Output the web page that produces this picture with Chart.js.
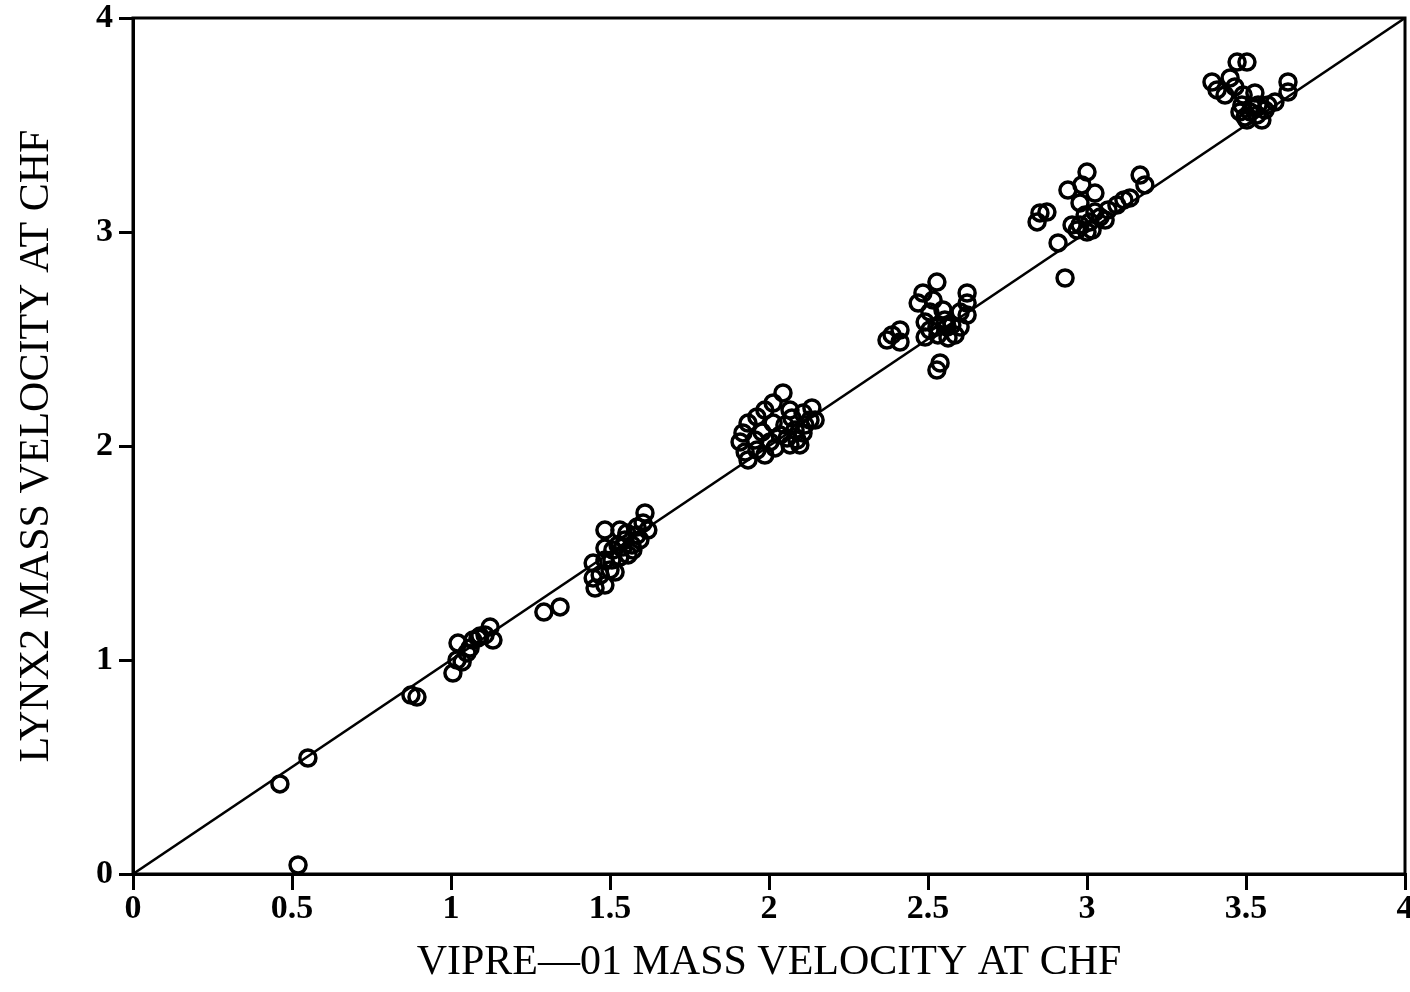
<!DOCTYPE html>
<html>
<head>
<meta charset="utf-8">
<script src="https://cdn.jsdelivr.net/npm/chart.js@4.4.1/dist/chart.umd.min.js"></script>
<style>
  body { margin: 0; background: #fff; }
  #grafico { display: block; }
</style>
</head>
<body>
<canvas id="grafico" width="1410" height="992"></canvas>
<script>
// mass velocity at CHF, VIPRE-01 (x) vs LYNX2 (y)
let vipreX = [
  0.462, 0.550, 0.519, 0.874, 0.893, 1.292, 1.343,
  1.006, 1.019, 1.050, 1.022, 1.069, 1.123, 1.132, 1.091, 1.060, 1.085, 1.107, 1.035,
  1.610, 1.484, 1.484, 1.447, 1.447, 1.453, 1.484, 1.500, 1.516, 1.531,
  1.553, 1.585, 1.594, 1.604, 1.541, 1.572, 1.509, 1.531,
  1.547, 1.569, 1.525, 1.585, 1.557, 1.506, 1.469, 1.484, 1.619,
  2.044, 2.013, 1.987, 1.962, 1.934, 1.918, 1.909, 1.925, 1.934, 1.978,
  2.013, 2.066, 2.107, 2.135, 2.129, 2.003, 2.057, 2.088, 2.107, 1.962,
  2.050, 2.082, 2.113, 2.066, 2.097, 2.035, 2.145, 2.019, 1.987, 1.956, 2.072,
  2.528, 2.484, 2.469, 2.516, 2.506, 2.547, 2.623, 2.623, 2.623, 2.601,
  2.491, 2.387, 2.371, 2.412, 2.538, 2.528, 2.560, 2.528,
  2.553, 2.575, 2.531, 2.585, 2.506, 2.491, 2.601, 2.563, 2.412,
  3.000, 2.984, 2.940, 3.025, 2.978, 2.852, 2.843, 2.874, 2.909, 2.931,
  2.978, 3.009, 3.041, 3.094, 3.135, 3.167, 3.182, 3.000, 2.969,
  2.994, 3.025, 2.953, 3.016, 3.057, 3.066, 3.116,
  3.472, 3.503, 3.450, 3.393, 3.409, 3.434, 3.465, 3.491, 3.528, 3.487,
  3.519, 3.497, 3.535, 3.560, 3.591, 3.632, 3.632, 3.503, 3.550,
  3.513, 3.538, 3.569, 3.481
];
let lynxY = [
  0.421, 0.542, 0.042, 0.836, 0.827, 1.224, 1.248,
  0.939, 1.000, 1.033, 1.079, 1.093, 1.154, 1.093, 1.112, 1.056, 1.103, 1.117, 0.991,
  1.687, 1.607, 1.523, 1.453, 1.383, 1.336, 1.467, 1.421, 1.411, 1.607,
  1.593, 1.621, 1.561, 1.640, 1.528, 1.514, 1.514, 1.481,
  1.561, 1.537, 1.537, 1.584, 1.491, 1.467, 1.397, 1.350, 1.607,
  2.248, 2.201, 2.168, 2.136, 2.107, 2.061, 2.019, 1.972, 1.935, 2.065,
  2.107, 2.168, 2.154, 2.178, 2.121, 2.019, 2.037, 2.028, 2.061, 1.981,
  2.098, 2.075, 2.098, 2.005, 2.005, 2.051, 2.121, 1.991, 1.958, 2.028, 2.131,
  2.766, 2.715, 2.668, 2.682, 2.626, 2.636, 2.715, 2.668, 2.612, 2.556,
  2.509, 2.519, 2.495, 2.486, 2.388, 2.355, 2.556, 2.556,
  2.589, 2.565, 2.519, 2.519, 2.542, 2.579, 2.626, 2.505, 2.542,
  3.280, 3.220, 3.196, 3.182, 3.136, 3.089, 3.047, 3.093, 2.949, 2.785,
  3.033, 3.047, 3.070, 3.126, 3.159, 3.266, 3.220, 3.000, 3.009,
  3.079, 3.093, 3.033, 3.009, 3.056, 3.103, 3.150,
  3.794, 3.794, 3.720, 3.701, 3.664, 3.640, 3.678, 3.640, 3.650, 3.593,
  3.584, 3.537, 3.547, 3.570, 3.607, 3.701, 3.654, 3.523, 3.523,
  3.561, 3.593, 3.593, 3.561
];
// linea y = x
let lineaX = [0, 4];
let lineaY = [0, 4];

// etiquetas de los ejes
let ticksX = ["0", "0.5", "1", "1.5", "2", "2.5", "3", "3.5", "4"];
let ticksY = ["0", "1", "2", "3", "4"];

let tituloX = "VIPRE\u201401 MASS VELOCITY AT CHF";
let tituloY = "LYNX2 MASS VELOCITY AT CHF";

let puntos = vipreX.map((x, i) => ({ x: x, y: lynxY[i] }));
let linea = lineaX.map((x, i) => ({ x: x, y: lineaY[i] }));

// marco completo alrededor del area
const marco = {
  id: "marco",
  afterDraw(chart) {
    const { ctx, chartArea } = chart;
    ctx.save();
    ctx.strokeStyle = "#000";
    ctx.lineWidth = 3;
    ctx.strokeRect(chartArea.left, chartArea.top, chartArea.right - chartArea.left, chartArea.bottom - chartArea.top);
    ctx.restore();
  }
};

const fuenteTicks = { family: "'Liberation Serif', serif", size: 34, weight: "bold", lineHeight: 0.9 };
const fuenteTitulo = { family: "'Liberation Serif', serif", size: 42 };

new Chart(document.querySelector("#grafico"), {
  type: "scatter",
  data: {
    datasets: [
      {
        label: "datos",
        data: puntos,
        pointRadius: 8,
        pointBorderWidth: 3.5,
        borderColor: "#000",
        backgroundColor: "rgba(0,0,0,0)"
      },
      {
        label: "y = x",
        type: "line",
        data: linea,
        borderColor: "#000",
        borderWidth: 2.5,
        pointRadius: 0,
        fill: false
      }
    ]
  },
  options: {
    responsive: false,
    animation: false,
    plugins: { legend: { display: false }, tooltip: { enabled: false } },
    layout: { padding: 0, autoPadding: false },
    scales: {
      x: {
        type: "linear",
        min: 0,
        max: 4,
        afterFit(s) {
          s.height = 118;
          s.paddingRight = 5; // el "4" queda pegado al borde como en el original
        },
        ticks: {
          stepSize: 0.5, color: "#000", font: fuenteTicks, padding: 4, maxRotation: 0,
          callback: (v, i) => ticksX[i]
        },
        grid: { drawOnChartArea: false, color: "#000", lineWidth: 3, tickLength: 16 },
        border: { color: "#000", width: 3 },
        title: { display: true, text: tituloX, color: "#000", font: fuenteTitulo, padding: { top: 0, bottom: 4 } }
      },
      y: {
        type: "linear",
        min: 0,
        max: 4,
        afterFit(s) {
          s.width = 133;
          s.paddingTop = 18;
        },
        ticks: {
          stepSize: 1, color: "#000", font: fuenteTicks, padding: 6,
          callback: (v, i) => ticksY[i]
        },
        grid: { drawOnChartArea: false, color: "#000", lineWidth: 3, tickLength: 14 },
        border: { color: "#000", width: 3 },
        title: { display: true, text: tituloY, color: "#000", font: fuenteTitulo, padding: { top: 12, bottom: 0 } }
      }
    }
  },
  plugins: [marco]
});
</script>
</body>
</html>
